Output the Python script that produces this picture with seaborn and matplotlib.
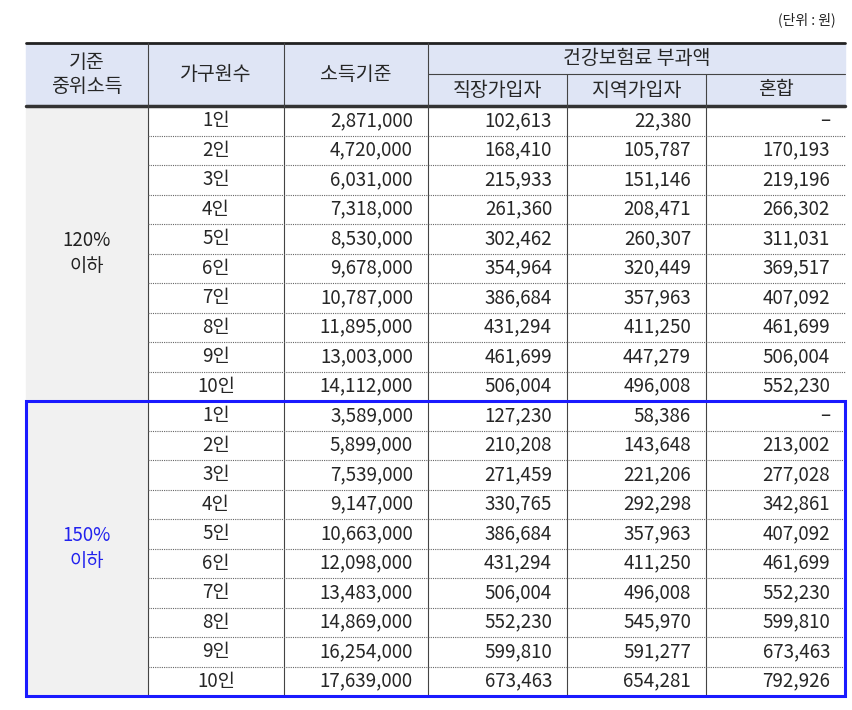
import matplotlib
matplotlib.use("Agg")
import matplotlib.pyplot as plt
import seaborn as sns

sns.set_theme(style="white")
plt.rcParams['font.family'] = ['Noto Sans CJK KR', 'DejaVu Sans']

groups = ["120%\n이하", "150%\n이하"]
households = [f"{i}인" for i in range(1, 11)]
income_120 = ["2,871,000","4,720,000","6,031,000","7,318,000","8,530,000","9,678,000","10,787,000","11,895,000","13,003,000","14,112,000"]
work_120 = ["102,613","168,410","215,933","261,360","302,462","354,964","386,684","431,294","461,699","506,004"]
region_120 = ["22,380","105,787","151,146","208,471","260,307","320,449","357,963","411,250","447,279","496,008"]
mixed_120 = ["–","170,193","219,196","266,302","311,031","369,517","407,092","461,699","506,004","552,230"]
income_150 = ["3,589,000","5,899,000","7,539,000","9,147,000","10,663,000","12,098,000","13,483,000","14,869,000","16,254,000","17,639,000"]
work_150 = ["127,230","210,208","271,459","330,765","386,684","431,294","506,004","552,230","599,810","673,463"]
region_150 = ["58,386","143,648","221,206","292,298","357,963","411,250","496,008","545,970","591,277","654,281"]
mixed_150 = ["–","213,002","277,028","342,861","407,092","461,699","552,230","599,810","673,463","792,926"]

fig = plt.figure(figsize=(8.53, 7.10), dpi=100)
ax = fig.add_axes([0, 0, 1, 1])
ax.set_xlim(0, 853); ax.set_ylim(710, 0); ax.axis("off")

xs = [26, 148, 284, 428, 567, 706, 845]
top, mid, hb = 43, 74, 106
rh = 29.5
bottom = hb + 20 * rh
fs = 13.5
hfs = 14

ax.add_patch(plt.Rectangle((xs[0], top), xs[-1]-xs[0], hb-top, color="#dfe5f5", zorder=0))
ax.add_patch(plt.Rectangle((xs[0], hb), xs[1]-xs[0], bottom-hb, color="#f1f1f1", zorder=0))

ax.text(836, 20, "(단위 : 원)", ha="right", va="center", fontsize=10, color="#222")
ax.text((xs[0]+xs[1])/2, (top+hb)/2, "기준\n중위소득", ha="center", va="center", fontsize=hfs, linespacing=1.15)
ax.text((xs[1]+xs[2])/2, (top+hb)/2, "가구원수", ha="center", va="center", fontsize=hfs)
ax.text((xs[2]+xs[3])/2, (top+hb)/2, "소득기준", ha="center", va="center", fontsize=hfs)
ax.text((xs[3]+xs[6])/2, (top+mid)/2, "건강보험료 부과액", ha="center", va="center", fontsize=hfs)
for i, t in enumerate(["직장가입자", "지역가입자", "혼합"]):
    ax.text((xs[3+i]+xs[4+i])/2, (mid+hb)/2, t, ha="center", va="center", fontsize=hfs)

ax.plot([xs[0], xs[-1]], [top, top], color="#222", lw=2)
ax.plot([xs[0], xs[-1]], [hb, hb], color="#333", lw=2.5)
ax.plot([xs[3], xs[-1]], [mid, mid], color="#444", lw=0.8)
for x in xs[1:-1]:
    y0 = mid if x in (xs[4], xs[5]) else top
    ax.plot([x, x], [y0, bottom], color="#444", lw=0.8)
for k in range(1, 20):
    if k == 10:
        continue
    y = hb + k * rh
    ax.plot([xs[1], xs[-1]], [y, y], color="#666", lw=0.8, ls=(0, (1, 1)))
ax.plot([xs[0], xs[-1]], [hb+10*rh, hb+10*rh], color="#444", lw=0.8)
ax.plot([xs[0], xs[-1]], [bottom, bottom], color="#444", lw=0.8)
ax.add_patch(plt.Rectangle((xs[0], hb+10*rh), xs[-1]-xs[0], 10*rh, fill=False, ec="#1a1aff", lw=2.2, zorder=5))

blocks = [(income_120, work_120, region_120, mixed_120), (income_150, work_150, region_150, mixed_150)]
for g, (inc, wk, rg, mx) in enumerate(blocks):
    y0 = hb + g * 10 * rh
    ax.text((xs[0]+xs[1])/2, y0 + 5*rh, groups[g], ha="center", va="center", fontsize=fs,
            color="#222" if g == 0 else "#2222ee", linespacing=1.3)
    for r in range(10):
        yc = y0 + (r + 0.5) * rh
        ax.text((xs[1]+xs[2])/2, yc, households[r], ha="center", va="center", fontsize=fs)
        for c, vals in enumerate([inc, wk, rg, mx]):
            ax.text(xs[3+c] - 15, yc, vals[r], ha="right", va="center", fontsize=fs)

fig.savefig("out.png", dpi=100)
